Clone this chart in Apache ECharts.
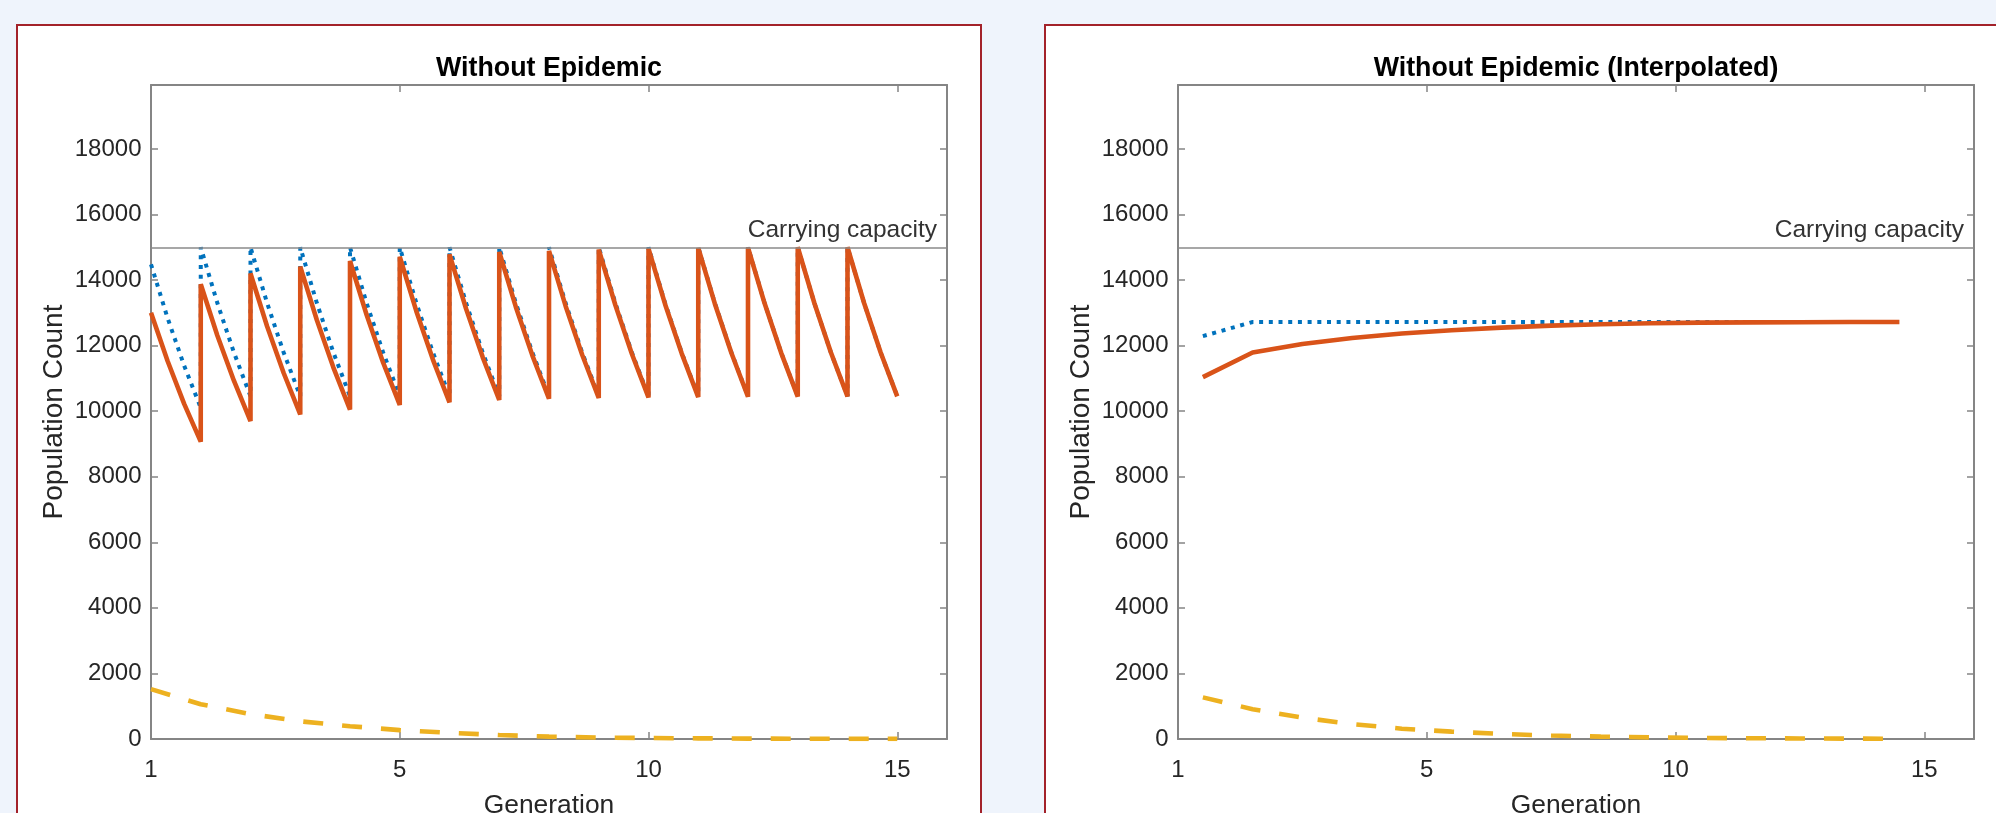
<!DOCTYPE html>
<html>
<head>
<meta charset="utf-8">
<script src="https://cdn.jsdelivr.net/npm/echarts@6/dist/echarts.min.js"></script>
<style>
  html, body { margin: 0; padding: 0; background: #eff4fc; width: 1996px; height: 813px; overflow: hidden; }
  .panel { position: absolute; background: #ffffff; border: 2px solid #a3222a; box-sizing: border-box; }
  #chart { position: absolute; left: 0; top: 0; width: 1996px; height: 813px; }
</style>
</head>
<body>
<div class="panel" style="left:16px; top:24px; width:966px; height:789px; border-bottom:none;"></div>
<div class="panel" style="left:1044px; top:24px; width:952px; height:789px; border-bottom:none; border-right:none;"></div>
<div id="chart"></div>
<script>
// ---------- data ----------
const xTickValues = [0, 5, 10, 15];
const xTickLabels = ['1', '5', '10', '15'];
const yTickValues = [0, 2000, 4000, 6000, 8000, 10000, 12000, 14000, 16000, 18000];
const carryingCapacity = 15000;

// Left panel: one sawtooth segment per generation (generation boundaries at 0..15)
// sample positions inside each generation
const subSteps = [0, 1/3, 2/3, 1];
const orangeStart = [13000, 13870, 14200, 14410, 14580, 14710, 14785, 14855, 14890, 14930, 14960, 14980, 14990, 15000, 15000];
const orangeMid1  = [11530, 12310, 12590, 12780, 12940, 13050, 13125, 13180, 13210, 13240, 13265, 13280, 13290, 13300, 13300];
const orangeMid2  = [10225, 10930, 11165, 11330, 11480, 11575, 11650, 11695, 11720, 11745, 11765, 11775, 11780, 11790, 11790];
const orangeEnd   = [9070, 9700, 9900, 10050, 10190, 10270, 10340, 10380, 10405, 10420, 10430, 10440, 10445, 10450, 10450];

const blueStart = [14480, 15000, 15000, 15000, 15000, 15000, 15000, 15000, 15000, 15000, 15000, 15000, 15000, 15000, 15000];
const blueMid1  = [12840, 13300, 13300, 13300, 13300, 13300, 13300, 13300, 13300, 13300, 13300, 13300, 13300, 13300, 13300];
const blueMid2  = [11390, 11790, 11790, 11790, 11790, 11790, 11790, 11790, 11790, 11790, 11790, 11790, 11790, 11790, 11790];
const blueEnd   = [10100, 10455, 10455, 10455, 10455, 10455, 10455, 10455, 10455, 10455, 10455, 10455, 10455, 10455, 10455];

const yellowGenX = [0, 1, 2, 3, 4, 5, 6, 7, 8, 9, 10, 11, 12, 13, 14, 15];
const yellowLeft = [1520, 1060, 760, 540, 390, 270, 190, 120, 72, 45, 30, 20, 12, 8, 5, 3];

// Right panel (interpolated): one value per generation midpoint
const genMid = [0.5, 1.5, 2.5, 3.5, 4.5, 5.5, 6.5, 7.5, 8.5, 9.5, 10.5, 11.5, 12.5, 13.5, 14.5];
const orangeAvg = [11040, 11790, 12050, 12230, 12370, 12470, 12550, 12610, 12650, 12680, 12700, 12710, 12715, 12720, 12720];
const blueAvg   = [12290, 12720, 12720, 12720, 12720, 12720, 12720, 12720, 12720, 12720, 12720, 12720, 12720, 12720, 12720];
const yellowAvg = [1270, 910, 650, 455, 315, 225, 155, 105, 72, 50, 34, 23, 16, 11, 8];

// ---------- build ----------
function sawtooth(s, m1, m2, e) {
  const pts = [];
  const vals = [s, m1, m2, e];
  for (let g = 0; g < s.length; g++) {
    for (let k = 0; k < subSteps.length; k++) {
      pts.push([g + subSteps[k], vals[k][g]]);
    }
  }
  return pts;
}
function pairs(xs, ys) { return xs.map((x, i) => [x, ys[i]]); }

const FONT = 'Liberation Sans, Arial, Helvetica, sans-serif';
const axisColor = '#858585';
const textColor = '#262626';
const C_BLUE = '#0072BD', C_ORANGE = '#D95319', C_YELLOW = '#EDB120';

const gridLeft = [151, 1178];
const gridWidth = 796;
const gridTop = 85;
const gridHeight = 654;

const grids = [], xAxes = [], yAxes = [], titles = [];
const panelTitles = ['Without Epidemic', 'Without Epidemic (Interpolated)'];
for (let i = 0; i < 2; i++) {
  grids.push({ left: gridLeft[i], top: gridTop, width: gridWidth, height: gridHeight,
               containLabel: false, outerBoundsMode: 'none' });
  titles.push({
    text: panelTitles[i], left: gridLeft[i] + gridWidth / 2, top: 55, textAlign: 'center', padding: 0,
    textStyle: { fontFamily: FONT, fontSize: 26.8, fontWeight: 'bold', color: '#000' }
  });
  const tickLine = { color: axisColor, width: 1.5 };
  xAxes.push({
    type: 'value', gridIndex: i, min: 0, max: 16, position: 'bottom',
    name: 'Generation', nameLocation: 'middle', nameGap: 54,
    nameTextStyle: { fontFamily: FONT, fontSize: 26.4, color: textColor },
    axisLine: { show: true, onZero: false, lineStyle: { color: axisColor, width: 2 } },
    axisTick: { show: true, inside: true, length: 7, lineStyle: tickLine, customValues: xTickValues },
    axisLabel: {
      customValues: xTickValues, margin: 19.5, fontFamily: FONT, fontSize: 24, color: textColor,
      formatter: v => xTickLabels[xTickValues.indexOf(v)]
    },
    splitLine: { show: false }
  });
  xAxes.push({
    type: 'value', gridIndex: i, min: 0, max: 16, position: 'top',
    axisLine: { show: true, onZero: false, lineStyle: { color: axisColor, width: 2 } },
    axisTick: { show: true, inside: true, length: 7, lineStyle: tickLine, customValues: xTickValues },
    axisLabel: { show: false }, splitLine: { show: false }
  });
  yAxes.push({
    type: 'value', gridIndex: i, min: 0, max: 19950, position: 'left',
    name: 'Population Count', nameLocation: 'middle', nameGap: 83,
    nameTextStyle: { fontFamily: FONT, fontSize: 28, color: textColor },
    axisLine: { show: true, onZero: false, lineStyle: { color: axisColor, width: 2 } },
    axisTick: { show: true, inside: true, length: 7, lineStyle: tickLine, customValues: yTickValues },
    axisLabel: { inside: false, customValues: yTickValues, margin: 9.5, fontFamily: FONT, fontSize: 24, color: textColor,
                 formatter: v => String(v) },
    splitLine: { show: false }
  });
  yAxes.push({
    type: 'value', gridIndex: i, min: 0, max: 19950, position: 'right',
    axisLine: { show: true, onZero: false, lineStyle: { color: axisColor, width: 2 } },
    axisTick: { show: true, inside: true, length: 7, lineStyle: tickLine, customValues: yTickValues },
    axisLabel: { show: false }, splitLine: { show: false }
  });
}

function capLine() {
  return {
    silent: true, symbol: ['none', 'none'], animation: false,
    lineStyle: { color: '#8a8a8a', width: 1.5, type: 'solid' },
    label: {
      show: true, position: 'insideEndTop', formatter: 'Carrying capacity',
      fontFamily: FONT, fontSize: 24.5, color: '#333', distance: [10, 5]
    },
    emphasis: { disabled: true },
    data: [{ yAxis: carryingCapacity }]
  };
}

const blueStyle = { color: C_BLUE, width: 4, type: [4, 5.7], cap: 'butt', join: 'bevel' };
const orangeStyle = { color: C_ORANGE, width: 4.6, type: 'solid', cap: 'butt', join: 'bevel' };
const yellowStyle = { color: C_YELLOW, width: 4.6, type: [20, 19], cap: 'butt', join: 'bevel' };

function lineSeries(axisIdx, data, style, extra) {
  return Object.assign({
    type: 'line', xAxisIndex: axisIdx * 2, yAxisIndex: axisIdx * 2, data: data,
    showSymbol: false, symbol: 'none', smooth: false, lineStyle: style,
    itemStyle: { color: style.color }, emphasis: { disabled: true }, silent: true, clip: true
  }, extra || {});
}

const series = [
  lineSeries(0, sawtooth(blueStart, blueMid1, blueMid2, blueEnd), blueStyle, { markLine: capLine() }),
  lineSeries(0, sawtooth(orangeStart, orangeMid1, orangeMid2, orangeEnd), orangeStyle),
  lineSeries(0, pairs(yellowGenX, yellowLeft), yellowStyle),
  lineSeries(1, pairs(genMid, blueAvg), blueStyle, { markLine: capLine() }),
  lineSeries(1, pairs(genMid, orangeAvg), orangeStyle),
  lineSeries(1, pairs(genMid, yellowAvg), yellowStyle)
];

const chart = echarts.init(document.getElementById('chart'), null, { renderer: 'canvas' });
chart.setOption({
  animation: false,
  backgroundColor: 'transparent',
  title: titles,
  grid: grids,
  xAxis: xAxes,
  yAxis: yAxes,
  series: series
});
</script>
</body>
</html>
